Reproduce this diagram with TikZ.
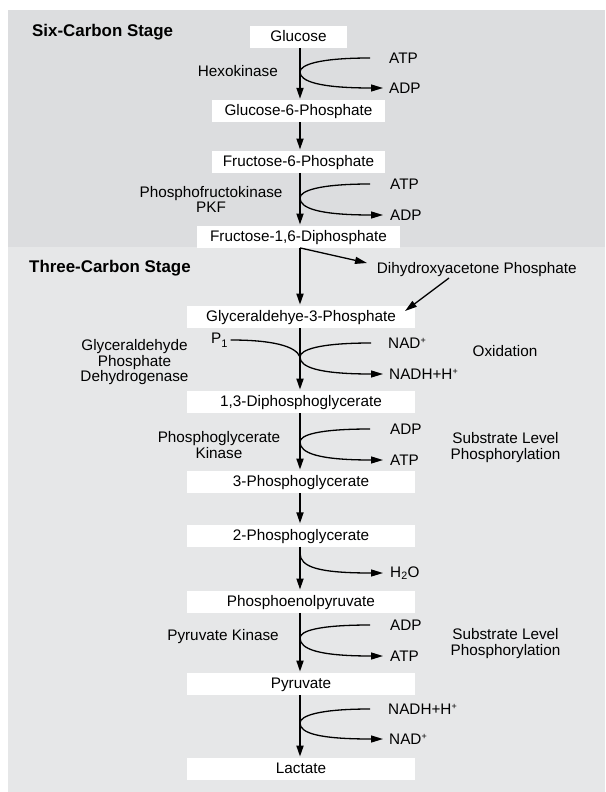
\documentclass[tikz,border=0pt]{standalone}
\usepackage{fontspec}
\setmainfont{Liberation Sans}
\usetikzlibrary{arrows.meta}
\definecolor{panelA}{HTML}{DCDDDF}
\definecolor{panelB}{HTML}{E6E7E8}
\newcommand\lblfont{\fontsize{15.3}{15.5}\selectfont}
\newcommand\stagefont{\fontsize{16.9}{17}\selectfont\bfseries}
\newcommand\plusup[1]{\raisebox{5pt}{\fontsize{9}{9}\selectfont #1}}
\begin{document}
\begin{tikzpicture}[x=1pt,y=-1pt,
  box/.style={fill=white, inner sep=0pt, minimum height=22pt, text height=11.5pt, text depth=2.5pt, font=\lblfont},
  lbl/.style={inner sep=0pt, font=\lblfont, anchor=west},
  enz/.style={inner sep=0pt, font=\lblfont, align=center},
  stage/.style={inner sep=0pt, anchor=west, font=\stagefont},
  main/.style={line width=1.7pt, -{Triangle[length=11pt,width=7pt]}, shorten >=1pt},
  side/.style={line width=1.3pt},
  sidearr/.style={line width=1.3pt, -{Triangle[length=12pt,width=7pt]}}]
\useasboundingbox (0,0) rectangle (605,792);
\fill[panelA] (8,10) rectangle (605,247);
\fill[panelB] (8,247) rectangle (605,792);

\node[stage] (six) at (32,32) {Six-Carbon Stage};
\node[stage] (three) at (29,268) {Three-Carbon Stage};

\node[box, minimum width=97pt] (glu) at (298.5,37) {Glucose};
\node[box, minimum width=173pt] (g6p) at (298.5,111) {Glucose-6-Phosphate};
\node[box, minimum width=173pt] (f6p) at (298.5,161.7) {Fructose-6-Phosphate};
\node[box, minimum width=203pt] (f16) at (298.5,236.7) {Fructose-1,6-Diphosphate};
\node[box, minimum width=228pt] (g3p) at (301,316.8) {Glyceraldehye-3-Phosphate};
\node[box, minimum width=228pt] (dpg) at (301,401.8) {1,3-Diphosphoglycerate};
\node[box, minimum width=228pt] (pg3) at (301,481.8) {3-Phosphoglycerate};
\node[box, minimum width=228pt] (pg2) at (301,535.5) {2-Phosphoglycerate};
\node[box, minimum width=228pt] (pep) at (301,601.7) {Phosphoenolpyruvate};
\node[box, minimum width=228pt] (pyr) at (301,683.8) {Pyruvate};
\node[box, minimum width=228pt] (lac) at (301,768.8) {Lactate};

\coordinate (sp) at (300,0);
\draw[main] (glu.south -| sp) -- (g6p.north -| sp);
\draw[main] (g6p.south -| sp) -- (f6p.north -| sp);
\draw[main] (f6p.south -| sp) -- (f16.north -| sp);
\draw[main] (f16.south -| sp) -- (g3p.north -| sp);
\draw[main] (g3p.south -| sp) -- (dpg.north -| sp);
\draw[main] (dpg.south -| sp) -- (pg3.north -| sp);
\draw[main] (pg3.south -| sp) -- (pg2.north -| sp);
\draw[main] (pg2.south -| sp) -- (pep.north -| sp);
\draw[main] (pep.south -| sp) -- (pyr.north -| sp);
\draw[main] (pyr.south -| sp) -- (lac.north -| sp);

% enzyme and side labels
\node[enz, anchor=east] (hex) at (278,71) {Hexokinase};
\node[enz] (pfk) at (211,199.5) {Phosphofructokinase\\PKF};
\node[enz] (gapdh) at (134.5,362.3) {Glyceraldehyde\\Phosphate\\Dehydrogenase};
\node[enz] (pgk) at (219,445) {Phosphoglycerate\\Kinase};
\node[enz] (pk) at (223,636.7) {Pyruvate Kinase};
\node[enz] (ox) at (505,351) {Oxidation};
\node[enz] (slp1) at (505.5,447.5) {Substrate Level\\Phosphorylation};
\node[enz] (slp2) at (505.5,643.5) {Substrate Level\\Phosphorylation};

% Hexokinase
\node[lbl] (atp1) at (389,58) {ATP};
\node[lbl] (adp1) at (389,88) {ADP};
\coordinate (j1) at (300,72);
\draw[side] ([xshift=-19pt]atp1.west) .. controls (318,58) and (300,65) .. (j1);
\draw[sidearr] (j1) .. controls (300,81) and (318,88) .. ([xshift=-6pt]adp1.west);

% PFK
\node[lbl] (atp2) at (390,184) {ATP};
\node[lbl] (adp2) at (390,215) {ADP};
\coordinate (j2) at (300,198);
\draw[side] ([xshift=-20pt]atp2.west) .. controls (318,184) and (300,191) .. (j2);
\draw[sidearr] (j2) .. controls (300,208) and (318,215) .. ([xshift=-7pt]adp2.west);

% DHAP
\node[lbl] (dhap) at (376.7,269.3) {Dihydroxyacetone Phosphate};
\coordinate (dtip) at (367,263);
\coordinate (dstart) at (449,278);
\coordinate (gtip) at (405,311);
\draw[sidearr] (f16.south -| sp) -- (dtip);
\draw[sidearr] (dstart) -- (gtip);

% GAPDH
\node[lbl] (p1) at (211,340) {P\raisebox{-4pt}{\fontsize{11}{11}\selectfont 1}};
\node[lbl] (nad1) at (388,343) {NAD\plusup{+}};
\node[lbl] (nadh1) at (389,374) {NADH+H\plusup{+}};
\coordinate (j3) at (300,357);
\draw[side] ([xshift=3pt]p1.east) .. controls (272,340) and (296,346) .. (j3);
\draw[side] ([xshift=-17pt]nad1.west) .. controls (318,343) and (300,350) .. (j3);
\draw[sidearr] (j3) .. controls (300,367) and (318,374) .. ([xshift=-6pt]nadh1.west);

% PGK
\node[lbl] (adp3) at (390,429) {ADP};
\node[lbl] (atp3) at (390,460) {ATP};
\coordinate (j4) at (300,442);
\draw[side] ([xshift=-20pt]adp3.west) .. controls (318,429) and (300,435) .. (j4);
\draw[sidearr] (j4) .. controls (300,453) and (318,460) .. ([xshift=-7pt]atp3.west);

% Enolase
\node[lbl] (h2o) at (390,573) {H\textsubscript{2}O};
\coordinate (j5) at (300,553);
\draw[sidearr] (j5) .. controls (300,567) and (318,573) .. ([xshift=-7pt]h2o.west);

% PK
\node[lbl] (adp4) at (390,625) {ADP};
\node[lbl] (atp4) at (390,656) {ATP};
\coordinate (j6) at (300,638);
\draw[side] ([xshift=-20pt]adp4.west) .. controls (318,625) and (300,631) .. (j6);
\draw[sidearr] (j6) .. controls (300,649) and (318,656) .. ([xshift=-7pt]atp4.west);

% LDH
\node[lbl] (nadh2) at (388,709) {NADH+H\plusup{+}};
\node[lbl] (nad2) at (389,739) {NAD\plusup{+}};
\coordinate (j7) at (300,723);
\draw[side] ([xshift=-18pt]nadh2.west) .. controls (318,709) and (300,716) .. (j7);
\draw[sidearr] (j7) .. controls (300,733) and (318,739) .. ([xshift=-6pt]nad2.west);
\end{tikzpicture}
\end{document}
